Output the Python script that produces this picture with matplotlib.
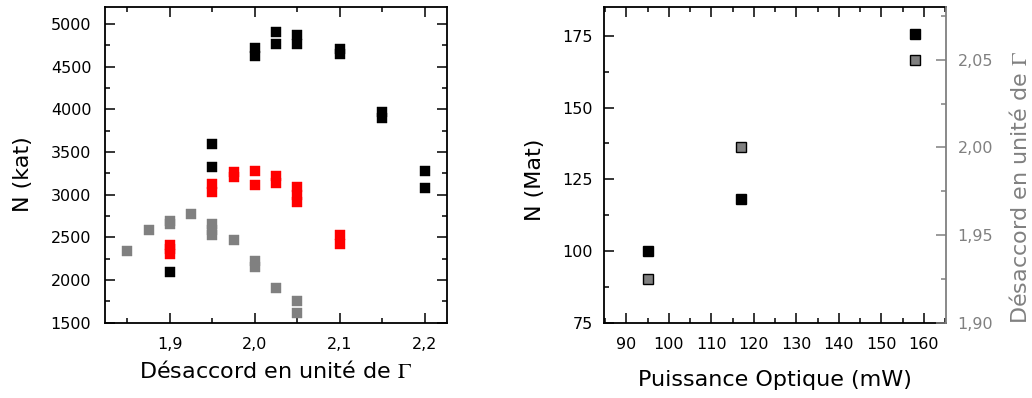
import matplotlib
matplotlib.use("Agg")
import matplotlib.pyplot as plt
from matplotlib.ticker import MultipleLocator, FuncFormatter

plt.rcParams['font.family'] = ['DejaVu Sans']
plt.rcParams['mathtext.fontset'] = 'stix'

# ---- Left panel data ----
black_x = [1.9, 1.95, 1.95, 2.0, 2.0, 2.025, 2.025, 2.05, 2.05, 2.1, 2.1, 2.15, 2.15, 2.2, 2.2]
black_y = [2090, 3595, 3322, 4715, 4625, 4903, 4770, 4870, 4770, 4707, 4648, 3965, 3902, 3273, 3083]

red_x = [1.9, 1.9, 1.9, 1.95, 1.95, 1.975, 1.975, 2.0, 2.0, 2.025, 2.025, 2.05, 2.05, 2.05, 2.1, 2.1]
red_y = [2415, 2360, 2300, 3124, 3034, 3262, 3207, 3282, 3113, 3223, 3140, 3086, 3000, 2917, 2526, 2424]

gray_x = [1.85, 1.875, 1.9, 1.9, 1.925, 1.95, 1.95, 1.95, 1.975, 2.0, 2.0, 2.025, 2.05, 2.05]
gray_y = [2345, 2585, 2695, 2660, 2773, 2655, 2590, 2522, 2467, 2222, 2148, 1903, 1750, 1618]

# ---- Right panel data ----
power_mw = [95, 117, 158]
n_mat = [100, 118.2, 175.6]
detuning = [1.925, 2.0, 2.05]

GRAY = '#808080'
RED = '#ff0000'
TICK_FS = 11.5
LABEL_FS = 16

fig = plt.figure(figsize=(10.32, 3.98), dpi=100)
axL = fig.add_axes([0.1017, 0.1892, 0.3311, 0.7932])
axR = fig.add_axes([0.5856, 0.1892, 0.3311, 0.7925])

def style(ax, ypad, lw=1.3):
    for s in ax.spines.values():
        s.set_linewidth(lw)
    ax.tick_params(which='both', direction='in', width=1.1, labelsize=TICK_FS)
    ax.tick_params(which='major', length=7)
    ax.tick_params(which='minor', length=3.8)
    ax.tick_params(axis='x', which='both', pad=10)
    ax.tick_params(axis='y', which='both', pad=ypad)

comma1 = FuncFormatter(lambda v, p: f"{v:.1f}".replace('.', ','))
comma2 = FuncFormatter(lambda v, p: f"{v:.2f}".replace('.', ','))

# Left panel
ms = 7.9
axL.plot(gray_x, gray_y, 's', color=GRAY, ms=ms, mew=0.3, mec=GRAY, ls='none')
axL.plot(red_x, red_y, 's', color=RED, ms=ms, mew=0.3, mec=RED, ls='none')
axL.plot(black_x, black_y, 's', color='black', ms=ms, mew=0.3, mec='black', ls='none')
axL.set_xlim(1.8235, 2.2255)
axL.set_ylim(1500, 5200)
axL.xaxis.set_major_locator(MultipleLocator(0.1))
axL.xaxis.set_minor_locator(MultipleLocator(0.05))
axL.yaxis.set_major_locator(MultipleLocator(500))
axL.yaxis.set_minor_locator(MultipleLocator(250))
axL.xaxis.set_major_formatter(comma1)
style(axL, ypad=9.8)
axL.tick_params(which='both', top=True, right=True)
axL.set_xlabel(r"Désaccord en unité de $\Gamma$", fontsize=LABEL_FS)
axL.set_ylabel("N (kat)", fontsize=LABEL_FS)
axL.xaxis.set_label_coords(0.5, -0.117)
axL.yaxis.set_label_coords(-0.211, 0.471)

# Right panel
axR.plot(power_mw, n_mat, 's', color='black', ms=7.6, mec='black', mew=1.0, ls='none')
axR.set_xlim(84.8, 165.2)
axR.set_ylim(75, 185)
axR.xaxis.set_major_locator(MultipleLocator(10))
axR.xaxis.set_minor_locator(MultipleLocator(5))
axR.yaxis.set_major_locator(MultipleLocator(25))
axR.yaxis.set_minor_locator(MultipleLocator(12.5))
style(axR, ypad=8.3)
axR.tick_params(which='both', top=True, right=False)
axR.spines['right'].set_visible(False)
axR.set_xlabel("Puissance Optique (mW)", fontsize=LABEL_FS)
axR.set_ylabel("N (Mat)", fontsize=LABEL_FS)
axR.xaxis.set_label_coords(0.5, -0.150)
axR.yaxis.set_label_coords(-0.1735, 0.452)

axT = axR.twinx()
axT.plot(power_mw, detuning, 's', color=GRAY, ms=7.6, mec='black', mew=1.0, ls='none')
axT.set_ylim(1.90, 2.08)
axT.yaxis.set_major_locator(MultipleLocator(0.05))
axT.yaxis.set_minor_locator(MultipleLocator(0.025))
axT.yaxis.set_major_formatter(comma2)
for k in ('left', 'top', 'bottom'):
    axT.spines[k].set_visible(False)
axT.spines['right'].set_color(GRAY)
axT.spines['right'].set_linewidth(1.3)
axT.tick_params(which='both', direction='in', width=1.1, colors=GRAY,
                labelsize=TICK_FS, pad=8.3)
axT.tick_params(which='major', length=7)
axT.tick_params(which='minor', length=3.8)
axT.set_ylabel(r"Désaccord en unité de $\Gamma$", fontsize=LABEL_FS, color=GRAY)
axT.yaxis.set_label_coords(1.183, 0.429)

fig.savefig("out.png", dpi=100)
